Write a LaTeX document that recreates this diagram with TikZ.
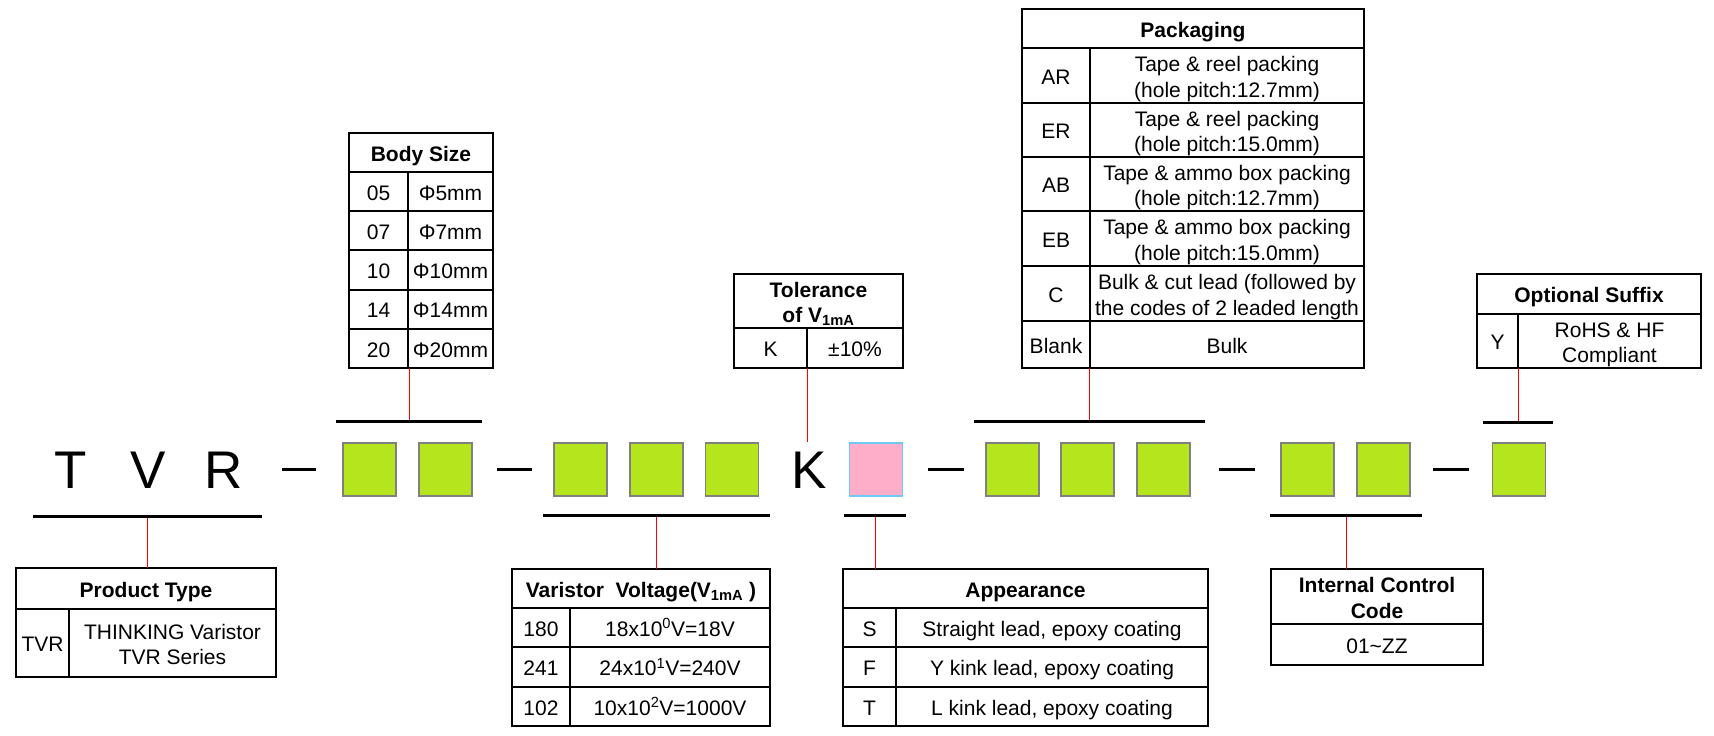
\documentclass[tikz,border=0pt]{standalone}
\usepackage{fontspec}
\setmainfont{Liberation Sans}
\definecolor{lime}{HTML}{B5E61D}
\definecolor{pinkfill}{HTML}{FFAEC9}
\definecolor{pinkedge}{HTML}{6CCBF2}
\newcommand{\lift}{\rule[-5pt]{0pt}{27.5pt}}
\begin{document}
\begin{tikzpicture}[x=1pt,y=-1pt,
  every node/.style={font=\fontsize{21}{25.5}\selectfont},
  cell/.style 2 args={draw,line width=2pt,inner sep=0pt,outer sep=0pt,anchor=north west,
    minimum width=#1,minimum height=#2,align=center,execute at begin node=\lift},
  head/.style 2 args={cell={#1}{#2},font=\fontsize{21}{25.5}\selectfont\bfseries},
  digit/.style={draw=gray,line width=1.2pt,fill=lime,minimum size=53pt,inner sep=0pt},
  codebar/.style={fill=black,inner sep=0pt,outer sep=0pt,minimum height=3pt,minimum width=#1pt},
  lead/.style={red,line width=0.8pt},
  letter/.style={font=\fontsize{53}{60}\selectfont,anchor=base,inner sep=0pt}]
\useasboundingbox (0,0) rectangle (1714,736);

% code row
\node[letter] (lt) at (71,488) {T};
\node[letter] (lv) at (148.5,488) {V};
\node[letter] (lr) at (223.5,488) {R};
\node[codebar=34] (dash1) at (298.5,469) {};
\node[digit] (bs1) at (369.5,469.5) {};
\node[digit] (bs2) at (445.5,469.5) {};
\node[codebar=35] (dash2) at (514.5,469) {};
\node[digit] (vv1) at (580.5,469.5) {};
\node[digit] (vv2) at (656.5,469.5) {};
\node[digit] (vv3) at (732,469.5) {};
\node[letter] (lk) at (809.5,488) {K};
\node[digit,draw=pinkedge,fill=pinkfill] (ap) at (876,469.5) {};
\node[codebar=36] (dash3) at (946,469) {};
\node[digit] (pk1) at (1012.5,469.5) {};
\node[digit] (pk2) at (1087.5,469.5) {};
\node[digit] (pk3) at (1163.5,469.5) {};
\node[codebar=36] (dash4) at (1237,469) {};
\node[digit] (ic1) at (1307.5,469.5) {};
\node[digit] (ic2) at (1383.5,469.5) {};
\node[codebar=36] (dash5) at (1451,469) {};
\node[digit] (os1) at (1519,469.5) {};

\node[codebar=229] (tvrbar) at (147.5,516) {};
\node[codebar=146] (bsbar) at (409,421) {};
\node[codebar=227] (vvbar) at (656.5,515) {};
\node[codebar=62] (apbar) at (875,515) {};
\node[codebar=231] (pkbar) at (1089.5,421) {};
\node[codebar=152] (icbar) at (1346,515) {};
\node[codebar=70] (osbar) at (1518,422) {};

% product type
\node[head={260pt}{41pt}] (pthead) at (16,568) {Product Type};
\node[cell={53pt}{68pt}] (ptc) at (16,609) {TVR};
\node[cell={207pt}{68pt}] (ptd) at (69,609) {\lift THINKING Varistor\\TVR Series};

% body size
\node[head={144pt}{39pt}] (bshead) at (349,133) {Body Size};
\foreach \cd/\sz [count=\i] in {05/5,07/7,10/10,14/14,20/20} {
  \node[cell={59pt}{39.2pt}] (bsc\i) at (349,{172+39.2*(\i-1)}) {\cd};
  \node[cell={85pt}{39.2pt}] (bsd\i) at (408,{172+39.2*(\i-1)}) {Φ\sz mm};
}

% varistor voltage
\node[head={258pt}{39pt}] (vvhead) at (512,569) {Varistor\ \ Voltage(V\textsubscript{1mA}\ )};
\foreach \cd/\val [count=\i] in {180/{18x10\textsuperscript{0}V=18V},
    241/{24x10\textsuperscript{1}V=240V},102/{10x10\textsuperscript{2}V=1000V}} {
  \node[cell={58pt}{39.3pt}] (vvc\i) at (512,{608+39.3*(\i-1)}) {\cd};
  \node[cell={200pt}{39.3pt}] (vvd\i) at (570,{608+39.3*(\i-1)}) {\val};
}

% tolerance
\node[head={169pt}{54pt}] (tohead) at (734,274) {\lift Tolerance\\of V\textsubscript{1mA}};
\node[cell={73pt}{40pt}] (toc) at (734,328) {K};
\node[cell={96pt}{40pt}] (tod) at (807,328) {±10\%};

% appearance
\node[head={365pt}{39pt}] (aphead) at (843,569) {Appearance};
\foreach \cd/\val [count=\i] in {S/{Straight lead, epoxy coating},
    F/{Y kink lead, epoxy coating},T/{L kink lead, epoxy coating}} {
  \node[cell={53pt}{39.3pt}] (apc\i) at (843,{608+39.3*(\i-1)}) {\cd};
  \node[cell={312pt}{39.3pt}] (apd\i) at (896,{608+39.3*(\i-1)}) {\val};
}

% packaging
\node[head={342pt}{39pt}] (pkhead) at (1022,9) {Packaging};
\node[cell={68pt}{55pt}] (pkc1) at (1022,48) {AR};
\node[cell={274pt}{55pt}] (pkd1) at (1090,48) {\lift Tape \& reel packing\\(hole pitch:12.7mm)};
\node[cell={68pt}{54pt}] (pkc2) at (1022,103) {ER};
\node[cell={274pt}{54pt}] (pkd2) at (1090,103) {\lift Tape \& reel packing\\(hole pitch:15.0mm)};
\node[cell={68pt}{54pt}] (pkc3) at (1022,157) {AB};
\node[cell={274pt}{54pt}] (pkd3) at (1090,157) {\lift Tape \& ammo box packing\\(hole pitch:12.7mm)};
\node[cell={68pt}{55pt}] (pkc4) at (1022,211) {EB};
\node[cell={274pt}{55pt}] (pkd4) at (1090,211) {\lift Tape \& ammo box packing\\(hole pitch:15.0mm)};
\node[cell={68pt}{55pt}] (pkc5) at (1022,266) {C};
\node[cell={274pt}{55pt}] (pkd5) at (1090,266) {\lift Bulk \& cut lead (followed by\\the codes of 2 leaded length};
\node[cell={68pt}{47pt}] (pkc6) at (1022,321) {Blank};
\node[cell={274pt}{47pt}] (pkd6) at (1090,321) {Bulk};

% internal control code
\node[head={212pt}{55pt}] (ichead) at (1271,569) {\lift Internal Control\\Code};
\node[cell={212pt}{41pt}] (icc) at (1271,624) {01\textasciitilde ZZ};

% optional suffix
\node[head={224pt}{40pt}] (oshead) at (1477,274) {Optional Suffix};
\node[cell={41pt}{54pt}] (osc) at (1477,314) {Y};
\node[cell={183pt}{54pt}] (osd) at (1518,314) {\lift RoHS \& HF\\Compliant};

% leads
\draw[lead] (tvrbar.south) -- (tvrbar.south |- pthead.north);
\draw[lead] (bsbar.north) -- (bsbar.north |- bsc5.south);
\draw[lead] (vvbar.south) -- (vvbar.south |- vvhead.north);
\draw[lead] (toc.south east) -- (toc.south east |- ap.north);
\draw[lead] (apbar.south) -- (apbar.south |- aphead.north);
\draw[lead] (pkbar.north) -- (pkbar.north |- pkc6.south);
\draw[lead] (icbar.south) -- (icbar.south |- ichead.north);
\draw[lead] (osbar.north) -- (osbar.north |- osc.south);
\end{tikzpicture}
\end{document}
